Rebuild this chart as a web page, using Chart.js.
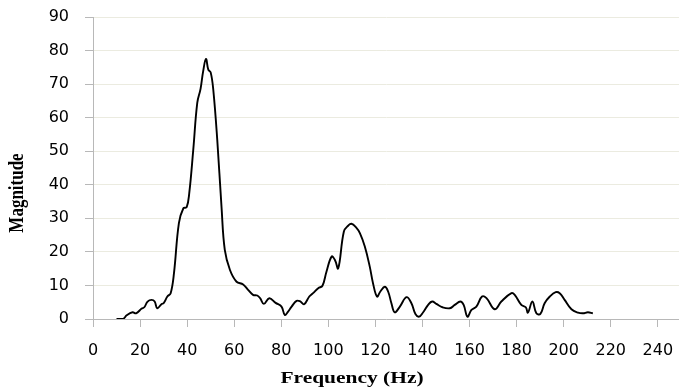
<!DOCTYPE html>
<html>
<head>
<meta charset="utf-8">
<script src="https://cdn.jsdelivr.net/npm/chart.js@4"></script>
<style>
  html, body { margin: 0; padding: 0; background: #fff; }
  #wrap { width: 679px; height: 390px; }
</style>
</head>
<body>
<div id="wrap"><canvas id="spectrum" width="679" height="390"></canvas></div>
<script>
// frequency (Hz) and magnitude
const freq = [10, 12.9, 14.3, 16.8, 18.3, 20.7, 21.8, 23.2, 24.9, 26.2, 27.3, 29.2, 30, 31.6, 33,
    34.4, 36.5, 38.4, 39.8, 40.9, 42.6, 44.3, 45.7, 46.8, 48, 49, 50, 51.1, 52.8, 54.6, 56, 58.2,
    61, 63.8, 65.9, 68, 69.8, 71, 72.6, 74.9, 77.6, 80.1, 81.5, 82.9, 84.4, 86.5, 87.9, 89.7,
    91.9, 93.5, 95.7, 97.5, 99.2, 101.4, 102.8, 104.2, 106.6, 108.4, 109.8, 111.7, 113.4, 115.5,
    117.6, 119, 120.7, 122.1, 124, 125.4, 126.8, 128.2, 130.4, 133.2, 135.3, 137, 138.6, 140.3,
    142.4, 144.1, 145.9, 148.5, 151.6, 153.7, 156.1, 157.5, 159.1, 160.8, 162.9, 165.3, 167.2,
    170.7, 173.5, 177.8, 179.2, 182, 183.9, 184.8, 186.7, 188.4, 190.1, 191.9, 194.1, 196.6,
    198.3, 200.4, 203.3, 206.1, 208.2, 210.3, 212.4];
const magnitude = [0, 0.1, 1.1, 2, 1.7, 3.1, 3.5, 5.2, 5.7, 5.2, 3.2, 4.5, 4.7, 6.7, 7.7,
    13.6, 28.6, 33, 33.3, 37.5, 50.4, 64.4, 68.6, 73.8, 77.5, 74.3, 73.5, 68.4, 53.4, 33.5, 20.6, 14.6,
    11.1, 10.3, 8.7, 7.2, 7, 6.2, 4.5, 6.2, 4.8, 3.7, 1.2, 2.2, 3.7, 5.4, 5.3, 4.4,
    6.7, 7.7, 9.2, 9.9, 14.1, 18.6, 17.6, 15.1, 26.1, 27.8, 28.4, 27.4, 25.6, 21.6,
    15.6, 10.6, 6.7, 8.2, 9.6, 8.2, 4.7, 2, 3.7, 6.5, 4.7, 1.5, 0.7, 2,
    4.2, 5.2, 4.5, 3.5, 3.2, 4.2, 5.2, 4.2, 0.7, 2.7, 3.7, 6.7, 6.2,
    2.9, 5.2, 7.7, 7.2, 4.2, 3.5, 1.9, 5.2, 1.7, 1.5, 4.7, 6.7, 8,
    7.7, 5.7, 2.9, 1.9, 1.7, 2, 1.7];
const xTitle = 'Frequency (Hz)';
const yTitle = 'Magnitude';

const points = freq.map((f, i) => ({ x: f, y: magnitude[i] }));

// axis titles drawn by hand: the reference places them off-centre
// and its text is stretched sideways
const axisTitles = {
    id: 'axisTitles',
    afterDraw(chart) {
        const ctx = chart.ctx;
        ctx.save();
        ctx.fillStyle = '#000';
        ctx.textAlign = 'center';
        ctx.textBaseline = 'middle';
        ctx.font = 'bold 16px "Liberation Serif"';
        ctx.translate(352, 379);
        ctx.scale(1.34, 1);
        ctx.fillText(xTitle, 0, 0);
        ctx.restore();

        ctx.save();
        ctx.fillStyle = '#000';
        ctx.textAlign = 'center';
        ctx.textBaseline = 'middle';
        ctx.font = 'bold 17px "Liberation Serif"';
        ctx.translate(18, 193);
        ctx.rotate(-Math.PI / 2);
        ctx.scale(1, 1.25);
        ctx.fillText(yTitle, 0, 0);
        ctx.restore();
    }
};

const ctx = document.getElementById('spectrum').getContext('2d');
const chart = new Chart(ctx, {
    type: 'scatter',
    data: {
        datasets: [{
            data: points,
            showLine: true,
            borderColor: '#000',
            borderWidth: 1.9,
            pointRadius: 0,
            tension: 0.4,
            fill: false
        }]
    },
    options: {
        responsive: false,
        animation: false,
        layout: { padding: 0 },
        plugins: {
            legend: { display: false },
            tooltip: { enabled: false }
        },
        scales: {
            x: {
                type: 'linear',
                min: 0,
                max: 249,
                border: { color: '#b8b8b8', width: 1 },
                grid: { drawOnChartArea: false, tickLength: 8, color: '#b8b8b8' },
                ticks: {
                    stepSize: 20,
                    includeBounds: false,
                    padding: 14,
                    maxRotation: 0,
                    color: '#000',
                    font: { family: 'DejaVu Sans', size: 16 }
                },
                afterFit(s) {
                    s.height = 71;
                    s.paddingLeft = 0;
                    s.paddingRight = 0;
                }
            },
            y: {
                min: 0,
                max: 90,
                border: { color: '#b8b8b8', width: 1 },
                grid: { color: '#ebebe0', tickColor: '#b8b8b8', tickLength: 8 },
                ticks: {
                    stepSize: 10,
                    padding: 16,
                    color: '#000',
                    font: { family: 'DejaVu Sans', size: 16 }
                },
                afterFit(s) {
                    s.width = 93;
                    s.paddingTop = 17;
                    s.paddingBottom = 0;
                }
            }
        }
    },
    plugins: [axisTitles]
});
</script>
</body>
</html>
